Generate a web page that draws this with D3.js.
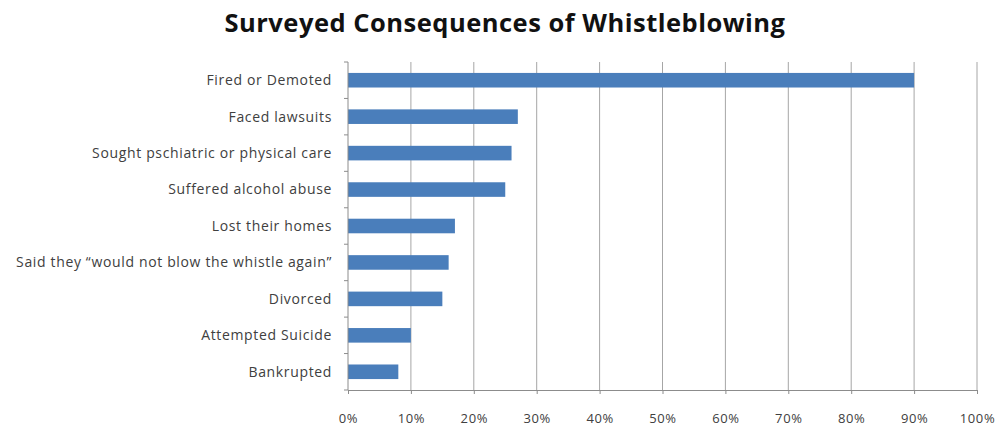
<!DOCTYPE html>
<html>
<head>
<meta charset="utf-8">
<script src="https://cdn.jsdelivr.net/npm/d3@7"></script>
<style>
  html, body { margin: 0; padding: 0; background: #fff; }
  svg { display: block; font-family: "Open Sans", Lato, sans-serif; }
</style>
</head>
<body>
<svg id="chart" width="998" height="427"></svg>
<script>
// Share of surveyed whistleblowers reporting each consequence
const categories = [
  "Fired or Demoted",
  "Faced lawsuits",
  "Sought pschiatric or physical care",
  "Suffered alcohol abuse",
  "Lost their homes",
  "Said they \u201cwould not blow the whistle again\u201d",
  "Divorced",
  "Attempted Suicide",
  "Bankrupted"
];
const values = [0.90, 0.27, 0.26, 0.25, 0.17, 0.16, 0.15, 0.10, 0.08];
const xTicks = [0, 0.1, 0.2, 0.3, 0.4, 0.5, 0.6, 0.7, 0.8, 0.9, 1.0];
const title = "Surveyed Consequences of Whistleblowing";

const svg = d3.select("#chart");
const plot = { left: 348, right: 977, top: 62, bottom: 390 };

const x = d3.scaleLinear().domain([0, 1]).range([plot.left, plot.right]);
const y = d3.scaleBand().domain(categories)
  .range([plot.top, plot.bottom])
  .paddingInner(0.6).paddingOuter(0.3);

// Title
svg.append("text")
  .attr("x", 505).attr("y", 32)
  .attr("text-anchor", "middle")
  .attr("font-size", 25.5).attr("font-weight", "bold")
  .attr("letter-spacing", 0.5)
  .attr("fill", "#111")
  .text(title);

// Vertical gridlines
svg.append("g")
  .selectAll("line")
  .data(xTicks.slice(1))
  .join("line")
  .attr("x1", d => x(d)).attr("x2", d => x(d))
  .attr("y1", plot.top).attr("y2", plot.bottom)
  .attr("stroke", "#a6a6a6").attr("stroke-width", 1);

// Bars
svg.append("g")
  .selectAll("rect")
  .data(categories)
  .join("rect")
  .attr("x", x(0))
  .attr("y", d => y(d))
  .attr("width", (d, i) => x(values[i]) - x(0))
  .attr("height", y.bandwidth())
  .attr("fill", "#4a7ebb");

// Horizontal axis
const xAxis = svg.append("g")
  .attr("transform", `translate(0,${plot.bottom})`)
  .call(d3.axisBottom(x).tickValues(xTicks).tickFormat(d3.format(".0%"))
    .tickSize(4).tickSizeOuter(0).tickPadding(20));
xAxis.select(".domain").attr("stroke", "#8c8c8c");
xAxis.selectAll(".tick line").attr("stroke", "#8c8c8c");
xAxis.selectAll("text").attr("font-size", 13).attr("fill", "#404040")
  .attr("font-family", "\"Open Sans\", sans-serif")
  .attr("letter-spacing", 0.6);

// Vertical category axis with ticks between bands
const yAxisG = svg.append("g");
yAxisG.append("line")
  .attr("x1", plot.left).attr("x2", plot.left)
  .attr("y1", plot.top).attr("y2", plot.bottom)
  .attr("stroke", "#8c8c8c");
const boundaries = d3.range(categories.length + 1).map(i => plot.top + i * (plot.bottom - plot.top) / categories.length);
yAxisG.selectAll("line.tk")
  .data(boundaries)
  .join("line").attr("class", "tk")
  .attr("x1", plot.left - 4).attr("x2", plot.left)
  .attr("y1", d => d).attr("y2", d => d)
  .attr("stroke", "#8c8c8c");
yAxisG.selectAll("text")
  .data(categories)
  .join("text")
  .attr("x", plot.left - 16)
  .attr("y", d => y(d) + y.bandwidth() / 2)
  .attr("dy", "0.35em")
  .attr("text-anchor", "end")
  .attr("font-size", 14)
  .attr("letter-spacing", 0.65)
  .attr("fill", "#404040")
  .text(d => d);
</script>
</body>
</html>
